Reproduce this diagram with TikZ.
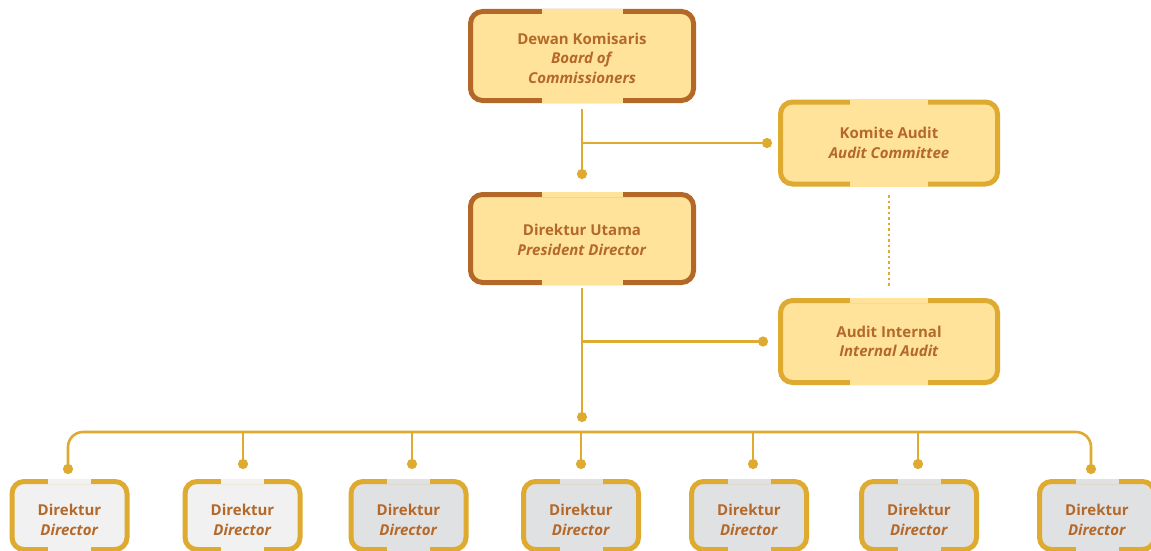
\documentclass[tikz,border=0pt]{standalone}
\usepackage{fontspec}
\setmainfont{Open Sans}
\usetikzlibrary{calc,arrows.meta}

\definecolor{txtbrown}{RGB}{180,104,42}
\definecolor{boxbrown}{RGB}{180,104,40}
\definecolor{gold}{RGB}{222,171,48}
\definecolor{boxyellow}{RGB}{255,227,155}
\definecolor{boxgray}{RGB}{224,225,226}
\definecolor{boxlight}{RGB}{240,241,240}

\tikzset{
  orgbox/.style={rounded corners=12pt, line width=5pt, outer sep=0pt, inner sep=0pt,
    align=center, text=txtbrown, font=\bfseries\fontsize{15}{19.5}\selectfont},
  topbox/.style={orgbox, draw=boxbrown, fill=boxyellow, minimum width=223pt, minimum height=89pt},
  sidebox/.style={orgbox, draw=gold, fill=boxyellow, minimum width=217pt, minimum height=82pt},
  dirbox/.style={orgbox, draw=gold, fill=#1, minimum width=115pt, minimum height=68pt, text height=40pt},
  conn/.style={draw=gold, line width=2.6pt},
  dotend/.style={conn, -{Circle[length=10pt]}},
}

\begin{document}
\begin{tikzpicture}[x=1pt,y=-1pt]
\useasboundingbox (0,0) rectangle (1151,551);

% boxes
\node[topbox, text height=54.5pt] (board) at (582,56) {Dewan Komisaris\\\textit{Board of}\\\textit{Commissioners}};
\node[sidebox] (komite) at (889,143) {Komite Audit\\\textit{Audit Committee}};
\node[topbox, minimum height=88pt, text height=34pt] (pres) at (582,238.5) {Direktur Utama\\\textit{President Director}};
\node[sidebox] (audit) at (889,341.5) {Audit Internal\\\textit{Internal Audit}};

\node[dirbox=boxlight] (dir1) at (69.5,515.5) {Direktur\\\textit{Director}};
\node[dirbox=boxlight] (dir2) at (242.5,515.5) {Direktur\\\textit{Director}};
\node[dirbox=boxgray] (dir3) at (408.5,515.5) {Direktur\\\textit{Director}};
\node[dirbox=boxgray] (dir4) at (581,515.5) {Direktur\\\textit{Director}};
\node[dirbox=boxgray] (dir5) at (749,515.5) {Direktur\\\textit{Director}};
\node[dirbox=boxgray] (dir6) at (919,515.5) {Direktur\\\textit{Director}};
\node[dirbox=boxgray] (dir7) at (1097,515.5) {Direktur\\\textit{Director}};

% gaps in the top and bottom edges
\foreach \n/\c/\g in {board/boxyellow/40.5, pres/boxyellow/40.5, komite/boxyellow/39, audit/boxyellow/39,
    dir1/boxlight/21.5, dir2/boxlight/21.5, dir3/boxgray/21.5, dir4/boxgray/21.5,
    dir5/boxgray/21.5, dir6/boxgray/21.5, dir7/boxgray/21.5} {
  \fill[\c] ($(\n.north)+(-\g,-2.6)$) rectangle ($(\n.north)+(\g,2.6)$);
  \fill[\c] ($(\n.south)+(-\g,-2.6)$) rectangle ($(\n.south)+(\g,2.6)$);
}

% connectors
\coordinate (bdDot) at (582,179);
\coordinate (puDot) at (582,422);
\coordinate (bus) at (581,432);
\coordinate (d1) at (68,474);
\coordinate (d2) at (243,469);
\coordinate (d3) at (412,469);
\coordinate (d4) at (581,469);
\coordinate (d5) at (753,469);
\coordinate (d6) at (918,469);
\coordinate (d7) at (1091,474);

\draw[dotend, shorten <=8.5pt] (board.south) -- (bdDot);
\draw[dotend, shorten >=8.5pt] (board.south |- komite.west) -- (komite.west);
\draw[dotend, shorten <=5.5pt] (pres.south) -- (puDot);
\draw[dotend, shorten >=12.5pt] (pres.south |- audit.west) -- (audit.west);
\draw[draw=gold, line width=2.5pt, dash pattern=on 2.5pt off 3pt, shorten <=11pt, shorten >=15pt] (komite) -- (audit);

\draw[conn, {Circle[length=10pt]}-{Circle[length=10pt]}, rounded corners=15pt] (d1) |- (bus) -| (d7);
\foreach \d in {d2,d3,d4,d5,d6}
  \draw[dotend] (\d |- bus) -- (\d);
\end{tikzpicture}
\end{document}
